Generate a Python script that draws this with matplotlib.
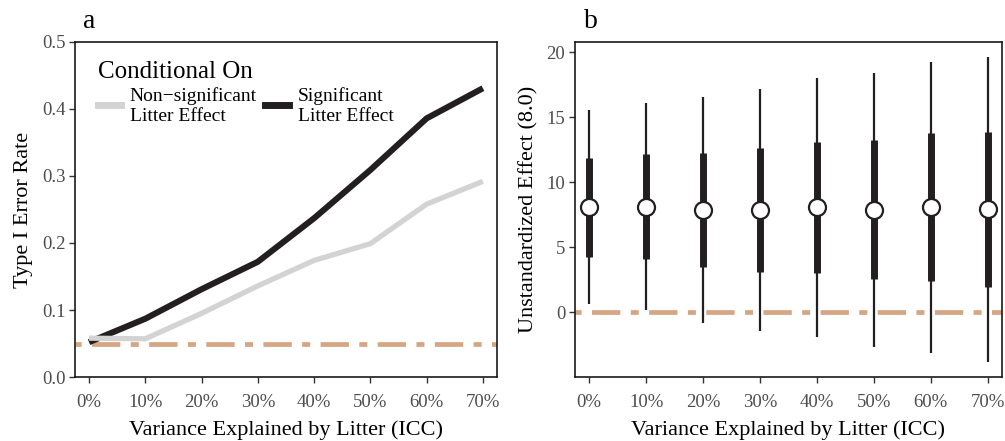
import matplotlib
matplotlib.use("Agg")
from matplotlib import pyplot as plt
from matplotlib.lines import Line2D

plt.rcParams['font.family'] = ['Liberation Serif', 'DejaVu Serif']

# ICC levels shared by both panels
icc = [0, 10, 20, 30, 40, 50, 60, 70]
icc_labels = ["0%", "10%", "20%", "30%", "40%", "50%", "60%", "70%"]

# panel a: type I error rate, conditional on litter effect test
err_nonsig = [0.058, 0.057, 0.095, 0.136, 0.174, 0.199, 0.258, 0.292]
err_sig = [0.052, 0.087, 0.131, 0.172, 0.237, 0.309, 0.386, 0.431]
nominal_alpha = 0.05

# panel b: estimate distribution (true effect 8.0)
est_median = [8.08, 8.13, 7.87, 7.87, 8.08, 7.87, 8.08, 7.92]
est_q_lo = [4.28, 4.08, 3.46, 3.13, 3.00, 2.54, 2.41, 1.97]
est_q_hi = [11.85, 12.18, 12.28, 12.64, 13.13, 13.26, 13.77, 13.87]
est_w_lo = [0.64, 0.18, -0.79, -1.41, -1.87, -2.64, -3.10, -3.79]
est_w_hi = [15.56, 16.08, 16.54, 17.18, 18.00, 18.44, 19.26, 19.62]

ref_color = '#D6A583'
tick_col = '#4D4D4D'
# dot-dash reference line, offset so it opens with a short dash
dotdash = (8.6, (6.0, 2.2, 1.7, 2.2))

fig = plt.figure(figsize=(10.05, 4.41), dpi=100)
ax1 = fig.add_axes([0.0746, 0.1451, 0.4199, 0.7597])
ax2 = fig.add_axes([0.5721, 0.1451, 0.4249, 0.7597])

for ax in (ax1, ax2):
    for s in ax.spines.values():
        s.set_linewidth(1.2)
        s.set_color('#1a1a1a')
    ax.tick_params(axis='both', length=4, width=1.0, color='#333333',
                   labelsize=13.5, labelcolor=tick_col)
    ax.tick_params(axis='x', pad=8)
    ax.tick_params(axis='y', pad=3)
    ax.set_xticks(icc)
    ax.set_xticklabels(icc_labels)
    ax.set_xlim(-2.5, 72.5)
    ax.set_xlabel("Variance Explained by Litter (ICC)", fontsize=16, labelpad=7)

# --- panel a
ax1.axhline(nominal_alpha, color=ref_color, lw=3.4, linestyle=dotdash, zorder=1)
ax1.plot(icc, err_sig, color='#231f20', lw=4.4, solid_capstyle='butt', zorder=2)
ax1.plot(icc, err_nonsig, color='#d3d3d3', lw=3.8, solid_capstyle='butt', zorder=3)
ax1.set_ylim(0, 0.5)
ax1.set_yticks([0.0, 0.1, 0.2, 0.3, 0.4, 0.5])
ax1.set_yticklabels(["0.0", "0.1", "0.2", "0.3", "0.4", "0.5"])
ax1.set_ylabel("Type I Error Rate", fontsize=16, labelpad=6)

handles = [Line2D([], [], color='#d3d3d3', lw=5),
           Line2D([], [], color='#231f20', lw=5)]
leg = ax1.legend(handles, ["Non\u2212significant\nLitter Effect", "Significant\nLitter Effect"],
                 ncol=2, loc='upper left', bbox_to_anchor=(0.012, 0.995),
                 title="Conditional On", title_fontsize=18, fontsize=14,
                 frameon=False, handlelength=1.2, handletextpad=0.45,
                 columnspacing=0.45, alignment='left', labelspacing=0.2)

ax1.text(0.02, 1.042, "a", transform=ax1.transAxes, fontsize=20, va='baseline')

# --- panel b
ax2.axhline(0, color=ref_color, lw=3.4, linestyle=dotdash, zorder=1)
ax2.vlines(icc, est_w_lo, est_w_hi, color='#231f20', lw=1.6, zorder=2)
ax2.vlines(icc, est_q_lo, est_q_hi, color='#231f20', lw=5.0, zorder=3)
ax2.scatter(icc, est_median, s=150, facecolor='white', edgecolor='#231f20',
            linewidths=1.6, zorder=4)
ax2.set_ylim(-4.98, 20.79)
ax2.set_yticks([0, 5, 10, 15, 20])
ax2.set_ylabel("Unstandardized Effect (8.0)", fontsize=16, labelpad=6)

ax2.text(0.02, 1.042, "b", transform=ax2.transAxes, fontsize=20, va='baseline')

fig.savefig("out.png", dpi=100)
